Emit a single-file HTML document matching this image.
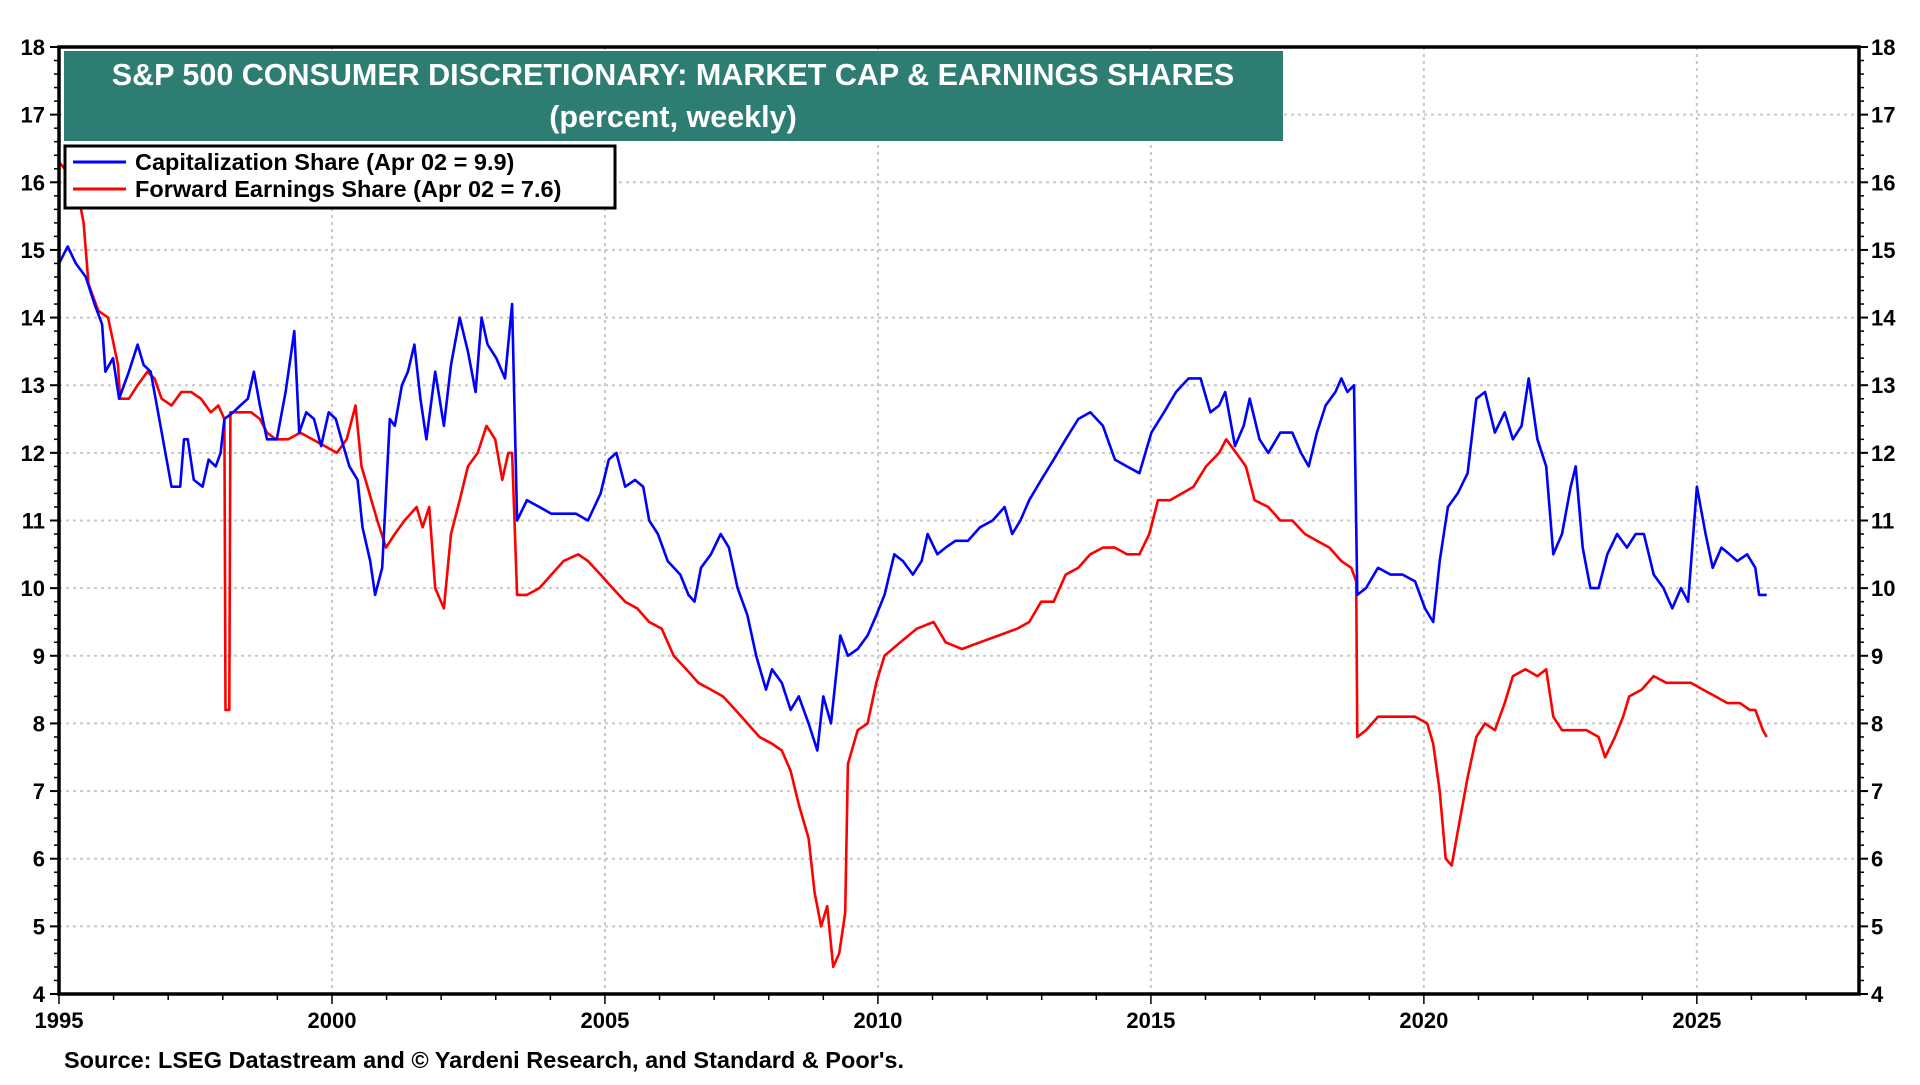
<!DOCTYPE html>
<html><head><meta charset="utf-8">
<style>
html,body{margin:0;padding:0;background:#fff;}
body{width:1920px;height:1080px;overflow:hidden;font-family:"Liberation Sans",Arial,sans-serif;}
svg text{font-family:"Liberation Sans",Arial,sans-serif;font-weight:bold;}
</style></head>
<body>
<svg id="chart" width="1920" height="1080" viewBox="0 0 1920 1080" xmlns="http://www.w3.org/2000/svg">
<g id="grid"></g>
<g id="series"></g>
<g id="axes"></g>
<rect x="64" y="51" width="1219" height="90" fill="#2e7d72"/>
<text x="673" y="85" fill="#fff" font-size="30.5" text-anchor="middle">S&amp;P 500 CONSUMER DISCRETIONARY: MARKET CAP &amp; EARNINGS SHARES</text>
<text x="673" y="127" fill="#fff" font-size="30.5" text-anchor="middle">(percent, weekly)</text>
<g>
<rect x="65" y="146" width="550" height="62" fill="#fff" stroke="#000" stroke-width="3"/>
<line x1="73" y1="162" x2="126" y2="162" stroke="#0000ff" stroke-width="3"/>
<text x="135" y="170" font-size="23.5">Capitalization Share  (Apr 02 = 9.9)</text>
<line x1="73" y1="189" x2="126" y2="189" stroke="#ff0000" stroke-width="3"/>
<text x="135" y="197" font-size="23.5">Forward Earnings Share (Apr 02 = 7.6)</text>
</g>
<text x="64" y="1068" font-size="23.5">Source: LSEG Datastream and © Yardeni Research, and Standard &amp; Poor's.</text>
</svg>
<script>
const capYears=[1995.00,1995.16,1995.31,1995.49,1995.65,1995.79,1995.85,1995.99,1996.10,1996.28,1996.44,1996.55,1996.68,1996.86,1997.06,1997.22,1997.29,1997.36,1997.47,1997.63,1997.74,1997.87,1997.96,1998.03,1998.19,1998.32,1998.46,1998.57,1998.68,1998.81,1998.99,1999.15,1999.31,1999.40,1999.53,1999.67,1999.80,1999.94,2000.07,2000.21,2000.32,2000.47,2000.56,2000.70,2000.79,2000.92,2001.06,2001.15,2001.28,2001.39,2001.51,2001.62,2001.73,2001.89,2002.05,2002.18,2002.34,2002.49,2002.63,2002.74,2002.85,2003.01,2003.17,2003.30,2003.39,2003.57,2003.80,2004.02,2004.24,2004.47,2004.69,2004.92,2005.07,2005.21,2005.37,2005.55,2005.70,2005.81,2005.97,2006.15,2006.38,2006.53,2006.64,2006.76,2006.94,2007.12,2007.27,2007.43,2007.61,2007.77,2007.95,2008.06,2008.24,2008.40,2008.55,2008.73,2008.89,2009.00,2009.14,2009.31,2009.45,2009.63,2009.81,2009.97,2010.12,2010.30,2010.46,2010.64,2010.80,2010.91,2011.09,2011.24,2011.42,2011.65,2011.87,2012.10,2012.32,2012.46,2012.61,2012.77,2012.99,2013.22,2013.44,2013.67,2013.89,2014.12,2014.34,2014.56,2014.79,2015.01,2015.24,2015.46,2015.69,2015.91,2016.09,2016.25,2016.36,2016.54,2016.70,2016.81,2016.99,2017.15,2017.37,2017.59,2017.75,2017.89,2018.04,2018.20,2018.38,2018.49,2018.60,2018.72,2018.78,2018.94,2019.16,2019.39,2019.61,2019.84,2020.02,2020.17,2020.29,2020.44,2020.62,2020.80,2020.96,2021.12,2021.30,2021.48,2021.63,2021.79,2021.92,2022.08,2022.24,2022.37,2022.53,2022.69,2022.78,2022.91,2023.05,2023.20,2023.36,2023.54,2023.72,2023.88,2024.03,2024.21,2024.39,2024.55,2024.71,2024.84,2025.00,2025.16,2025.29,2025.45,2025.60,2025.74,2025.92,2026.07,2026.14,2026.28];
const capValues=[14.8,15.05,14.8,14.6,14.2,13.9,13.2,13.4,12.8,13.2,13.6,13.3,13.2,12.4,11.5,11.5,12.2,12.2,11.6,11.5,11.9,11.8,12.0,12.5,12.6,12.7,12.8,13.2,12.7,12.2,12.2,12.9,13.8,12.3,12.6,12.5,12.1,12.6,12.5,12.1,11.8,11.6,10.9,10.4,9.9,10.3,12.5,12.4,13.0,13.2,13.6,12.8,12.2,13.2,12.4,13.3,14.0,13.5,12.9,14.0,13.6,13.4,13.1,14.2,11.0,11.3,11.2,11.1,11.1,11.1,11.0,11.4,11.9,12.0,11.5,11.6,11.5,11.0,10.8,10.4,10.2,9.9,9.8,10.3,10.5,10.8,10.6,10.0,9.6,9.0,8.5,8.8,8.6,8.2,8.4,8.0,7.6,8.4,8.0,9.3,9.0,9.1,9.3,9.6,9.9,10.5,10.4,10.2,10.4,10.8,10.5,10.6,10.7,10.7,10.9,11.0,11.2,10.8,11.0,11.3,11.6,11.9,12.2,12.5,12.6,12.4,11.9,11.8,11.7,12.3,12.6,12.9,13.1,13.1,12.6,12.7,12.9,12.1,12.4,12.8,12.2,12.0,12.3,12.3,12.0,11.8,12.3,12.7,12.9,13.1,12.9,13.0,9.9,10.0,10.3,10.2,10.2,10.1,9.7,9.5,10.4,11.2,11.4,11.7,12.8,12.9,12.3,12.6,12.2,12.4,13.1,12.2,11.8,10.5,10.8,11.5,11.8,10.6,10.0,10.0,10.5,10.8,10.6,10.8,10.8,10.2,10.0,9.7,10.0,9.8,11.5,10.8,10.3,10.6,10.5,10.4,10.5,10.3,9.9,9.9];
const earnYears=[1995.00,1995.31,1995.45,1995.54,1995.63,1995.72,1995.90,1996.08,1996.12,1996.28,1996.44,1996.62,1996.75,1996.88,1997.06,1997.24,1997.42,1997.60,1997.78,1997.92,1998.03,1998.05,1998.12,1998.14,1998.30,1998.52,1998.68,1998.81,1998.97,1999.20,1999.42,1999.64,1999.87,2000.09,2000.27,2000.43,2000.54,2000.65,2000.83,2000.99,2001.15,2001.33,2001.55,2001.66,2001.78,2001.89,2002.05,2002.18,2002.34,2002.49,2002.67,2002.83,2002.99,2003.12,2003.23,2003.30,2003.39,2003.57,2003.80,2004.02,2004.24,2004.51,2004.69,2004.92,2005.14,2005.37,2005.59,2005.81,2006.04,2006.26,2006.49,2006.71,2006.94,2007.16,2007.39,2007.61,2007.83,2008.06,2008.24,2008.40,2008.55,2008.73,2008.84,2008.96,2009.07,2009.18,2009.29,2009.40,2009.45,2009.63,2009.81,2009.97,2010.12,2010.41,2010.71,2011.02,2011.24,2011.54,2011.87,2012.21,2012.55,2012.77,2012.99,2013.22,2013.44,2013.67,2013.89,2014.12,2014.34,2014.56,2014.79,2014.97,2015.13,2015.35,2015.57,2015.78,2016.01,2016.25,2016.38,2016.56,2016.74,2016.90,2017.15,2017.37,2017.59,2017.82,2018.04,2018.27,2018.49,2018.67,2018.76,2018.78,2018.94,2019.16,2019.39,2019.61,2019.84,2020.06,2020.17,2020.29,2020.40,2020.51,2020.62,2020.80,2020.96,2021.12,2021.30,2021.48,2021.63,2021.86,2022.08,2022.24,2022.37,2022.53,2022.75,2022.98,2023.20,2023.32,2023.50,2023.65,2023.76,2023.99,2024.21,2024.44,2024.66,2024.89,2025.11,2025.34,2025.56,2025.79,2025.97,2026.07,2026.21,2026.28];
const earnValues=[16.3,16.0,15.4,14.5,14.3,14.1,14.0,13.3,12.8,12.8,13.0,13.2,13.1,12.8,12.7,12.9,12.9,12.8,12.6,12.7,12.5,8.2,8.2,12.6,12.6,12.6,12.5,12.3,12.2,12.2,12.3,12.2,12.1,12.0,12.2,12.7,11.8,11.5,11.0,10.6,10.8,11.0,11.2,10.9,11.2,10.0,9.7,10.8,11.3,11.8,12.0,12.4,12.2,11.6,12.0,12.0,9.9,9.9,10.0,10.2,10.4,10.5,10.4,10.2,10.0,9.8,9.7,9.5,9.4,9.0,8.8,8.6,8.5,8.4,8.2,8.0,7.8,7.7,7.6,7.3,6.8,6.3,5.5,5.0,5.3,4.4,4.6,5.2,7.4,7.9,8.0,8.6,9.0,9.2,9.4,9.5,9.2,9.1,9.2,9.3,9.4,9.5,9.8,9.8,10.2,10.3,10.5,10.6,10.6,10.5,10.5,10.8,11.3,11.3,11.4,11.5,11.8,12.0,12.2,12.0,11.8,11.3,11.2,11.0,11.0,10.8,10.7,10.6,10.4,10.3,10.1,7.8,7.9,8.1,8.1,8.1,8.1,8.0,7.7,7.0,6.0,5.9,6.4,7.2,7.8,8.0,7.9,8.3,8.7,8.8,8.7,8.8,8.1,7.9,7.9,7.9,7.8,7.5,7.8,8.1,8.4,8.5,8.7,8.6,8.6,8.6,8.5,8.4,8.3,8.3,8.2,8.2,7.9,7.8,7.6];
const yTicks=[4,5,6,7,8,9,10,11,12,13,14,15,16,17,18];
const xTicks=[1995,2000,2005,2010,2015,2020,2025];

const L=59,R=1859,T=47,B=994;
const X0=1995,X1=2027.97,Y0=4,Y1=18;
const sx=v=>L+(v-X0)/(X1-X0)*(R-L);
const sy=v=>B-(v-Y0)/(Y1-Y0)*(B-T);
const NS="http://www.w3.org/2000/svg";
function mk(tag,attrs,parent){const e=document.createElementNS(NS,tag);for(const k in attrs)e.setAttribute(k,attrs[k]);parent.appendChild(e);return e;}
const grid=document.getElementById('grid'),axes=document.getElementById('axes'),series=document.getElementById('series');

yTicks.forEach(v=>{
  if(v>Y0&&v<Y1){const g=mk('line',{x1:L,x2:R,y1:sy(v),y2:sy(v),stroke:'#c8c8c8','stroke-width':2,'stroke-dasharray':'3,4'},grid);
  
  }
  const t1=mk('text',{x:L-14,y:sy(v)+8,'font-size':22,'text-anchor':'end'},axes);t1.textContent=v;
  
  
  const t2=mk('text',{x:R+12,y:sy(v)+8,'font-size':22,'text-anchor':'start'},axes);t2.textContent=v;
  
  
  mk('line',{x1:L-9,x2:L,y1:sy(v),y2:sy(v),stroke:'#000','stroke-width':2},axes);
  mk('line',{x1:R,x2:R+9,y1:sy(v),y2:sy(v),stroke:'#000','stroke-width':2},axes);
  if(v<Y1){for(let k=1;k<5;k++){const yy=sy(v+k*0.2);
    mk('line',{x1:L-5,x2:L,y1:yy,y2:yy,stroke:'#000','stroke-width':1.5},axes);
    mk('line',{x1:R,x2:R+5,y1:yy,y2:yy,stroke:'#000','stroke-width':1.5},axes);}}
});
xTicks.forEach(v=>{
  if(v>X0){const g=mk('line',{x1:sx(v),x2:sx(v),y1:T,y2:B,stroke:'#c8c8c8','stroke-width':2,'stroke-dasharray':'3,4'},grid);
  
  }
  const t=mk('text',{x:sx(v),y:B+34,'font-size':22,'text-anchor':'middle'},axes);t.textContent=v;
  
  
});
for(let y=1995;y<=2027;y++){mk('line',{x1:sx(y),x2:sx(y),y1:B,y2:B+(y%5===0?10:6),stroke:'#000','stroke-width':1.5},axes);}
const frame=mk('rect',{x:L,y:T,width:R-L,height:B-T,fill:'none',stroke:'#000','stroke-width':3.5},axes);



function line(xs,ys){return xs.map((x,i)=>(i?'L':'M')+sx(x).toFixed(1)+','+sy(ys[i]).toFixed(1)).join('');}
const pe=mk('path',{d:line(earnYears,earnValues),fill:'none',stroke:'#ff0000','stroke-width':2.6,'stroke-linejoin':'round'},series);


const pc=mk('path',{d:line(capYears,capValues),fill:'none',stroke:'#0000ff','stroke-width':2.6,'stroke-linejoin':'round'},series);


</script>
</body></html>
